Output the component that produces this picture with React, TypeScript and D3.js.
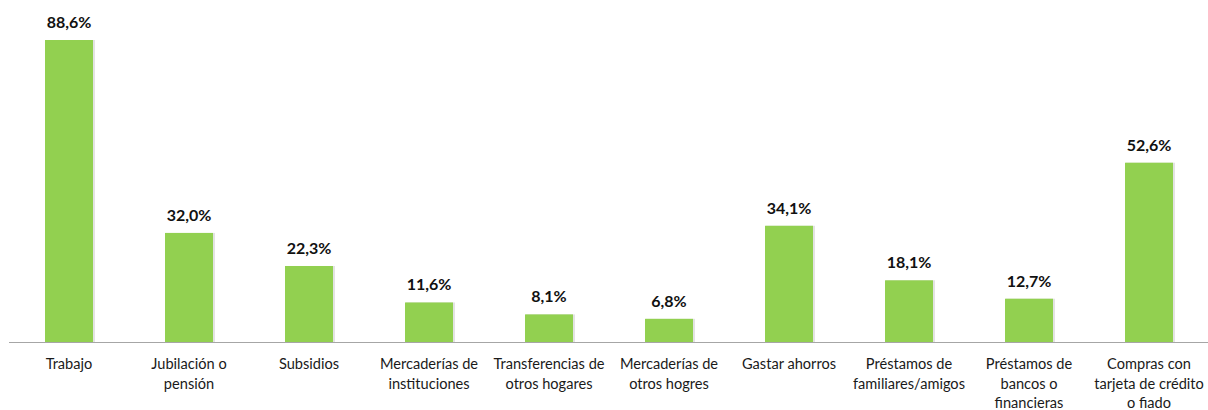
import React from "react";
import * as d3 from "d3";

const categories: string[][] = [
  ["Trabajo"],
  ["Jubilación o", "pensión"],
  ["Subsidios"],
  ["Mercaderías de", "instituciones"],
  ["Transferencias de", "otros hogares"],
  ["Mercaderías de", "otros hogres"],
  ["Gastar ahorros"],
  ["Préstamos de", "familiares/amigos"],
  ["Préstamos de", "bancos o", "financieras"],
  ["Compras con", "tarjeta de crédito", "o fiado"],
];
const values: number[] = [88.6, 32.0, 22.3, 11.6, 8.1, 6.8, 34.1, 18.1, 12.7, 52.6];
const valueLabels: string[] = ["88,6%", "32,0%", "22,3%", "11,6%", "8,1%", "6,8%", "34,1%", "18,1%", "12,7%", "52,6%"];

export default function App() {
  const W = 1208, H = 410;
  const baseY = 342;
  const ids = categories.map((_, i) => String(i));
  const x = d3.scaleBand<string>().domain(ids).range([9, 1209]).paddingInner(0.6).paddingOuter(0.3);
  const y = d3.scaleLinear().domain([0, 88.6]).range([baseY, 40]);
  const font = "Lato, 'Open Sans', sans-serif";
  return (
    <svg width={W} height={H} style={{ position: "absolute", left: 0, top: 0 }} fontFamily={font}>
      <rect width={W} height={H} fill="#fff" />
      {values.map((v, i) => {
        const bx = x(String(i))!;
        const bw = x.bandwidth();
        const cx = bx + bw / 2;
        return (
          <g key={i}>
            <rect x={bx + 1} y={y(v)} width={bw + 1} height={baseY - y(v)} fill="#e3e3e3" />
            <rect x={bx} y={y(v)} width={bw} height={baseY - y(v)} fill="#92D050" />
            <text x={cx} y={y(v) - 12} textAnchor="middle" fontSize={16} fontWeight="bold" fill="#111">
              {valueLabels[i]}
            </text>
            {categories[i].map((line, j) => (
              <text key={j} x={cx} y={369 + j * 19.5} textAnchor="middle" fontSize={14.6} fill="#1a1a1a">
                {line}
              </text>
            ))}
          </g>
        );
      })}
      <line x1={9} x2={1208} y1={baseY + 0.5} y2={baseY + 0.5} stroke="#a6a6a6" strokeWidth={1} />
    </svg>
  );
}
